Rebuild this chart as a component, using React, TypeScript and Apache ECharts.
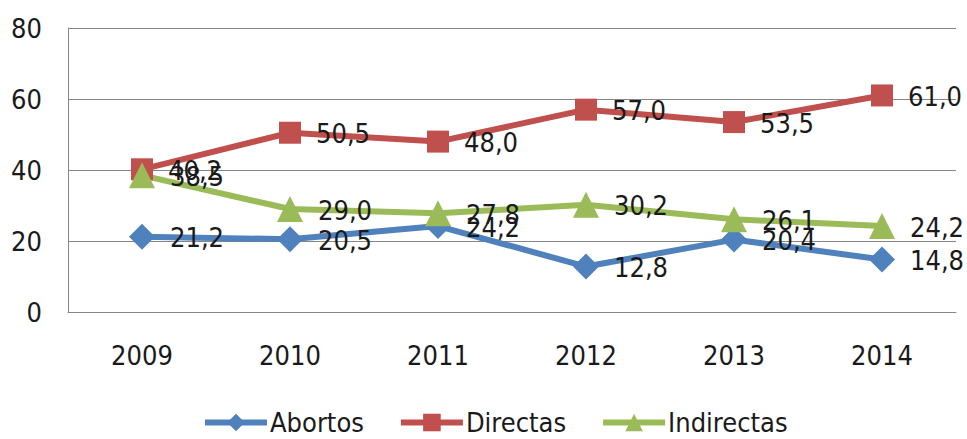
import React, { useEffect, useRef } from "react";
import * as echarts from "echarts";

const categories = ["2009", "2010", "2011", "2012", "2013", "2014"];
const abortos = [21.2, 20.5, 24.2, 12.8, 20.4, 14.8];
const directas = [40.2, 50.5, 48.0, 57.0, 53.5, 61.0];
const indirectas = [38.5, 29.0, 27.8, 30.2, 26.1, 24.2];

const FONT = "'DejaVu Sans Condensed', 'Liberation Sans Narrow', sans-serif";
const FS = 27;
const fmt = (p: any) => Number(p.value).toFixed(1).replace(".", ",");

export default function App() {
  const ref = useRef<HTMLDivElement>(null);
  useEffect(() => {
    if (!ref.current) return;
    const chart = echarts.init(ref.current, undefined, { renderer: "svg" });
    const label = {
      show: true,
      position: "right",
      distance: 15,
      offset: [0, 1],
      formatter: fmt,
      color: "#1a1a1a",
      fontFamily: FONT,
      fontSize: FS,
    };
    chart.setOption({
      animation: false,
      backgroundColor: "#ffffff",
      textStyle: { fontFamily: FONT },
      grid: { left: 68, right: 11, top: 28, bottom: 127 },
      legend: {
        bottom: -2,
        left: 197,
        itemWidth: 62,
        itemHeight: 22,
        itemGap: 34,
        lineStyle: { width: 6 },
        textStyle: { fontFamily: FONT, fontSize: FS, color: "#1a1a1a", padding: [0, 0, 0, -2] },
        data: ["Abortos", "Directas", "Indirectas"],
      },
      xAxis: {
        type: "category",
        data: categories,
        boundaryGap: true,
        axisLine: { lineStyle: { color: "#868686", width: 1 } },
        axisTick: { show: false },
        axisLabel: { color: "#1a1a1a", fontSize: FS, fontFamily: FONT, margin: 30 },
      },
      yAxis: {
        type: "value",
        min: 0,
        max: 80,
        interval: 20,
        axisLine: { show: true, lineStyle: { color: "#868686", width: 1 } },
        axisTick: { show: false },
        splitLine: { lineStyle: { color: "#868686", width: 1 } },
        axisLabel: { color: "#1a1a1a", fontSize: FS, fontFamily: FONT, margin: 26 },
      },
      series: [
        {
          name: "Abortos",
          type: "line",
          data: abortos,
          color: "#4F81BD",
          lineStyle: { width: 6, color: "#4F81BD" },
          symbol: "diamond",
          symbolSize: 26,
          itemStyle: { color: "#4F81BD" },
          label,
        },
        {
          name: "Directas",
          type: "line",
          data: directas,
          color: "#C0504D",
          lineStyle: { width: 6, color: "#C0504D" },
          symbol: "rect",
          symbolSize: 22,
          itemStyle: { color: "#C0504D" },
          label,
        },
        {
          name: "Indirectas",
          type: "line",
          data: indirectas,
          color: "#9BBB59",
          lineStyle: { width: 6, color: "#9BBB59" },
          symbol: "triangle",
          symbolSize: 26,
          itemStyle: { color: "#9BBB59" },
          label,
        },
      ],
    });
    return () => chart.dispose();
  }, []);
  return (
    <div
      ref={ref}
      style={{ position: "fixed", left: 0, top: 0, width: 967, height: 439, background: "#fff" }}
    />
  );
}
